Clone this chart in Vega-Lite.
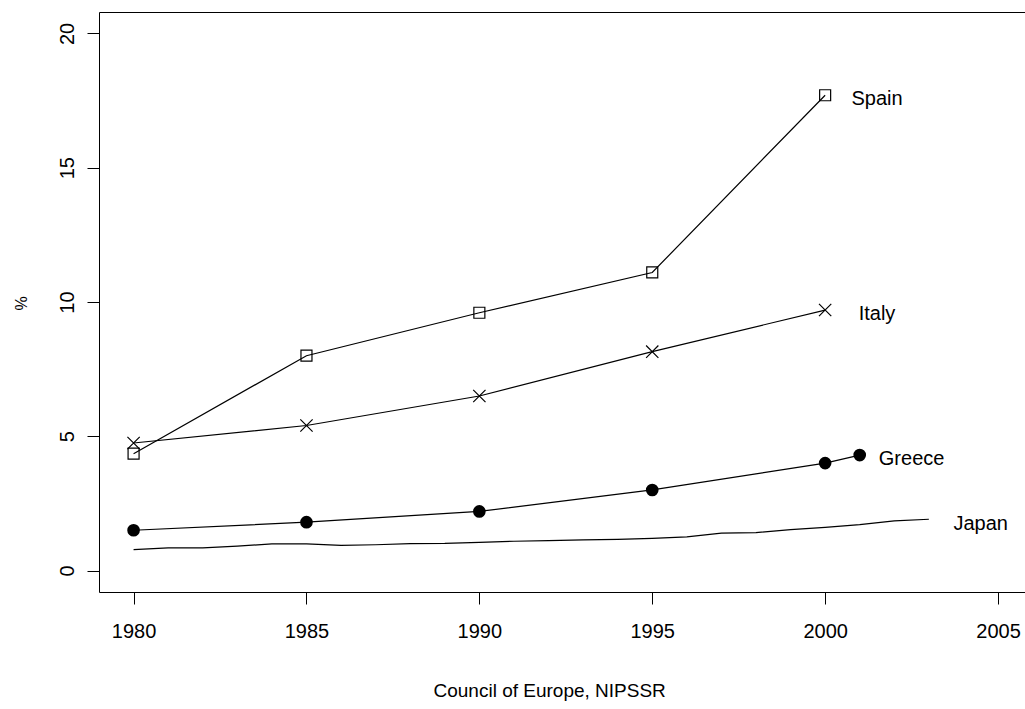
{
  "$schema": "https://vega.github.io/schema/vega-lite/v6.json",
  "autosize": {"type": "none"},
  "padding": {"left": 99, "top": 12, "right": 0, "bottom": 117},
  "width": 926,
  "height": 580,
  "background": "white",
  "config": {
    "view": {"stroke": null},
    "font": "Liberation Sans",
    "axis": {"grid": false, "domainColor": "black", "tickColor": "black", "labelColor": "black", "titleColor": "black", "domainWidth": 1, "tickWidth": 1, "labelFont": "Liberation Sans", "titleFont": "Liberation Sans", "titleFontWeight": "normal"}
  },
  "datasets": {
    "series": [
      {"country": "Spain", "year": 1980, "value": 4.35},
      {"country": "Spain", "year": 1985, "value": 8.0},
      {"country": "Spain", "year": 1990, "value": 9.6},
      {"country": "Spain", "year": 1995, "value": 11.1},
      {"country": "Spain", "year": 2000, "value": 17.7},
      {"country": "Italy", "year": 1980, "value": 4.75},
      {"country": "Italy", "year": 1985, "value": 5.4},
      {"country": "Italy", "year": 1990, "value": 6.5},
      {"country": "Italy", "year": 1995, "value": 8.15},
      {"country": "Italy", "year": 2000, "value": 9.7},
      {"country": "Greece", "year": 1980, "value": 1.5},
      {"country": "Greece", "year": 1985, "value": 1.8},
      {"country": "Greece", "year": 1990, "value": 2.2},
      {"country": "Greece", "year": 1995, "value": 3.0},
      {"country": "Greece", "year": 2000, "value": 4.0},
      {"country": "Greece", "year": 2001, "value": 4.3},
      {"country": "Japan", "year": 1980, "value": 0.78},
      {"country": "Japan", "year": 1981, "value": 0.84},
      {"country": "Japan", "year": 1982, "value": 0.84},
      {"country": "Japan", "year": 1983, "value": 0.91},
      {"country": "Japan", "year": 1984, "value": 0.99},
      {"country": "Japan", "year": 1985, "value": 0.99},
      {"country": "Japan", "year": 1986, "value": 0.94},
      {"country": "Japan", "year": 1987, "value": 0.96},
      {"country": "Japan", "year": 1988, "value": 1.0},
      {"country": "Japan", "year": 1989, "value": 1.01},
      {"country": "Japan", "year": 1990, "value": 1.05},
      {"country": "Japan", "year": 1991, "value": 1.09},
      {"country": "Japan", "year": 1992, "value": 1.11},
      {"country": "Japan", "year": 1993, "value": 1.14},
      {"country": "Japan", "year": 1994, "value": 1.16},
      {"country": "Japan", "year": 1995, "value": 1.2},
      {"country": "Japan", "year": 1996, "value": 1.25},
      {"country": "Japan", "year": 1997, "value": 1.39},
      {"country": "Japan", "year": 1998, "value": 1.41},
      {"country": "Japan", "year": 1999, "value": 1.52},
      {"country": "Japan", "year": 2000, "value": 1.61},
      {"country": "Japan", "year": 2001, "value": 1.71},
      {"country": "Japan", "year": 2002, "value": 1.85},
      {"country": "Japan", "year": 2003, "value": 1.91}
    ],
    "labels": [
      {"country": "Spain", "year": 2001.5, "value": 17.7},
      {"country": "Italy", "year": 2001.5, "value": 9.7},
      {"country": "Greece", "year": 2002.5, "value": 4.3},
      {"country": "Japan", "year": 2004.5, "value": 1.9}
    ]
  },
  "resolve": {"axis": {"x": "independent"}},
  "layer": [
    {
      "data": {"name": "series"},
      "mark": {"type": "line", "color": "black", "strokeWidth": 1.2},
      "encoding": {
        "x": {"field": "year", "type": "quantitative",
              "scale": {"domain": [1979, 2005.78], "nice": false, "zero": false},
              "axis": {"orient": "bottom", "values": [1980, 1985, 1990, 1995, 2000, 2005], "format": "d", "tickSize": 12, "labelFontSize": 20, "labelBaseline": "alphabetic", "labelPadding": 33, "labelFlush": false, "labelOverlap": false,
                       "title": "Council of Europe, NIPSSR", "titleFontSize": 19, "titleAlign": "left", "titleBaseline": "alphabetic", "titleX": 334, "titleY": 104, "titleAnchor": null}},
        "y": {"field": "value", "type": "quantitative",
              "scale": {"domain": [-0.8, 20.8], "nice": false, "zero": false},
              "axis": {"orient": "left", "values": [0, 5, 10, 15, 20], "tickSize": 12, "labelFontSize": 20, "labelAngle": -90, "labelAlign": "center", "labelBaseline": "alphabetic", "labelPadding": 14, "labelFlush": false, "labelOverlap": false,
                       "title": "%", "titleFontSize": 16, "titleAngle": -90, "titleAlign": "center", "titleBaseline": "alphabetic", "titleX": -73, "titleY": 291}},
        "detail": {"field": "country"}
      }
    },
    {
      "data": {"name": "series"},
      "transform": [{"filter": "datum.country === 'Spain'"}],
      "mark": {"type": "point", "shape": "square", "filled": false, "color": "black", "strokeWidth": 1.2, "size": 121, "opacity": 1},
      "encoding": {
        "x": {"field": "year", "type": "quantitative", "axis": null},
        "y": {"field": "value", "type": "quantitative"}
      }
    },
    {
      "data": {"name": "series"},
      "transform": [{"filter": "datum.country === 'Italy'"}],
      "mark": {"type": "point", "shape": "M-1,-1L1,1M-1,1L1,-1", "filled": false, "color": "black", "strokeWidth": 1.2, "size": 151, "opacity": 1},
      "encoding": {
        "x": {"field": "year", "type": "quantitative", "axis": null},
        "y": {"field": "value", "type": "quantitative"}
      }
    },
    {
      "data": {"name": "series"},
      "transform": [{"filter": "datum.country === 'Greece'"}],
      "mark": {"type": "point", "shape": "circle", "filled": true, "color": "black", "size": 160, "opacity": 1},
      "encoding": {
        "x": {"field": "year", "type": "quantitative", "axis": null},
        "y": {"field": "value", "type": "quantitative"}
      }
    },
    {
      "data": {"name": "labels"},
      "mark": {"type": "text", "fontSize": 20, "font": "Liberation Sans", "align": "center", "baseline": "middle", "dy": 4, "color": "black"},
      "encoding": {
        "x": {"field": "year", "type": "quantitative",
              "axis": {"orient": "top", "labels": false, "ticks": false, "title": null, "domain": true}},
        "y": {"field": "value", "type": "quantitative"},
        "text": {"field": "country"}
      }
    }
  ]
}
